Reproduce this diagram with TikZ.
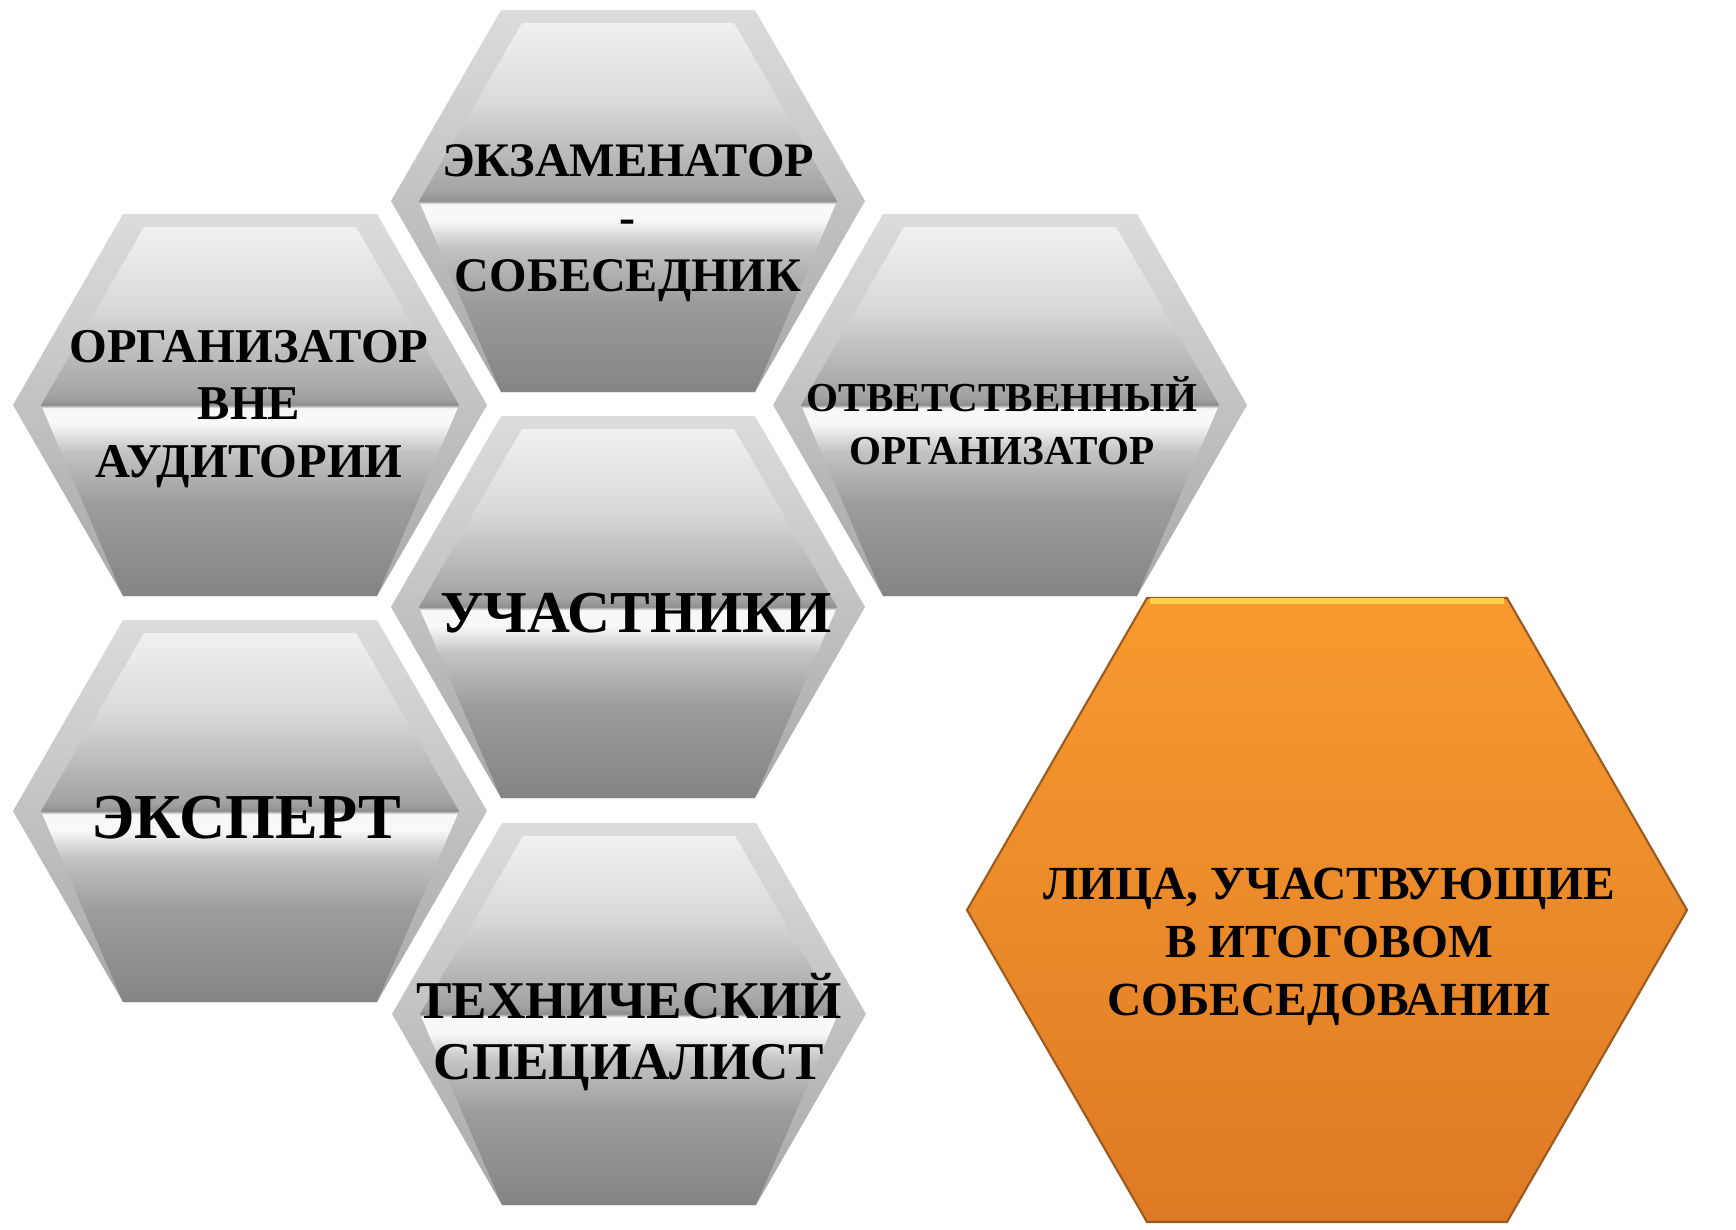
\documentclass[tikz,border=0pt]{standalone}
\usepackage{fontspec}
\setmainfont{Liberation Serif}
\usepackage{xcolor}

\definecolor{rimtop}{HTML}{DCDCDC}
\definecolor{rimbot}{HTML}{A8A8A8}
\definecolor{facebot}{HTML}{848484}
\definecolor{facelow}{HTML}{9C9C9C}
\definecolor{faceglow}{HTML}{C4C4C4}
\definecolor{faceshine}{HTML}{F8F8F8}
\definecolor{ledge}{HTML}{8E8E8E}
\definecolor{faceup}{HTML}{A2A2A2}
\definecolor{facehigh}{HTML}{DADADA}
\definecolor{facetop}{HTML}{F4F4F4}
\definecolor{hextop}{HTML}{F89A2F}
\definecolor{hexbot}{HTML}{DE7A25}
\definecolor{hexedge}{HTML}{9A5A20}
\definecolor{hexshine}{HTML}{F8D24A}

% glossy face of a grey cell, bottom -> top (25bp .. 75bp)
\pgfdeclareverticalshading{glossy}{100bp}{%
  color(0bp)=(facebot); color(25bp)=(facebot);
  color(37bp)=(facelow); color(44bp)=(faceglow);
  color(47.5bp)=(faceshine); color(49.6bp)=(faceshine);
  color(50bp)=(ledge); color(51bp)=(faceup);
  color(63bp)=(facehigh); color(75bp)=(facetop); color(100bp)=(facetop)}

% one grey cell of the honeycomb, centre at (#1,#2)
\newcommand{\hexcell}[2]{%
  \begin{scope}[shift={(#1,#2)}]
    % outer rim
    \shade[top color=rimtop, bottom color=rimbot]
      (-237,0) -- (-127,-191) -- (127,-191) -- (237,0) -- (127,191) -- (-127,191) -- cycle;
    % inner face
    \begin{scope}
      \clip (-209,0) -- (-106,-178) -- (106,-178) -- (209,0) -- (127,191) -- (-127,191) -- cycle;
      \shade[shading=glossy] (-237,-191) rectangle (237,191);
    \end{scope}
  \end{scope}}

\begin{document}
\begin{tikzpicture}[x=0.01cm, y=-0.01cm,
    cell/.style={align=center, inner sep=0pt, text=black},
  ]
    \useasboundingbox (0,0) rectangle (1736,1229);

    % Grey cells
    \hexcell{628}{201}
    \hexcell{250}{405}
    \hexcell{1010}{405}
    \hexcell{628}{607}
    \hexcell{250}{811}
    \hexcell{629}{1014}

    % Orange cell
    \shade[top color=hextop, bottom color=hexbot, draw=hexedge, line width=0.6pt]
      (967,910) -- (1147,598) -- (1507,598) -- (1687,910) -- (1507,1222) -- (1147,1222) -- cycle;
    \draw[hexshine, line width=1.6pt] (1150,601) -- (1504,601);

    % Labels
    \node[cell, font=\bfseries\fontsize{13.7pt}{16.4pt}\selectfont] (exam) at (628,223)
      {ЭКЗАМЕНАТОР\\-\\СОБЕСЕДНИК};
    \node[cell, font=\bfseries\fontsize{13.8pt}{16.4pt}\selectfont] (outside) at (249,409)
      {ОРГАНИЗАТОР\\ВНЕ\\АУДИТОРИИ};
    \node[cell, font=\bfseries\fontsize{11.7pt}{15.1pt}\selectfont] (chief) at (1002,421)
      {ОТВЕТСТВЕННЫЙ\\ОРГАНИЗАТОР};
    \node[cell, font=\bfseries\fontsize{16.9pt}{18pt}\selectfont] (members) at (636,613)
      {УЧАСТНИКИ};
    \node[cell, font=\bfseries\fontsize{18.2pt}{20pt}\selectfont] (expert) at (246,818)
      {ЭКСПЕРТ};
    \node[cell, font=\bfseries\fontsize{15.1pt}{17.6pt}\selectfont] (tech) at (629,1032)
      {ТЕХНИЧЕСКИЙ\\СПЕЦИАЛИСТ};
    \node[cell, font=\bfseries\fontsize{13.5pt}{16.5pt}\selectfont] (persons) at (1329,947)
      {ЛИЦА, УЧАСТВУЮЩИЕ\\В ИТОГОВОМ\\СОБЕСЕДОВАНИИ};
\end{tikzpicture}
\end{document}
